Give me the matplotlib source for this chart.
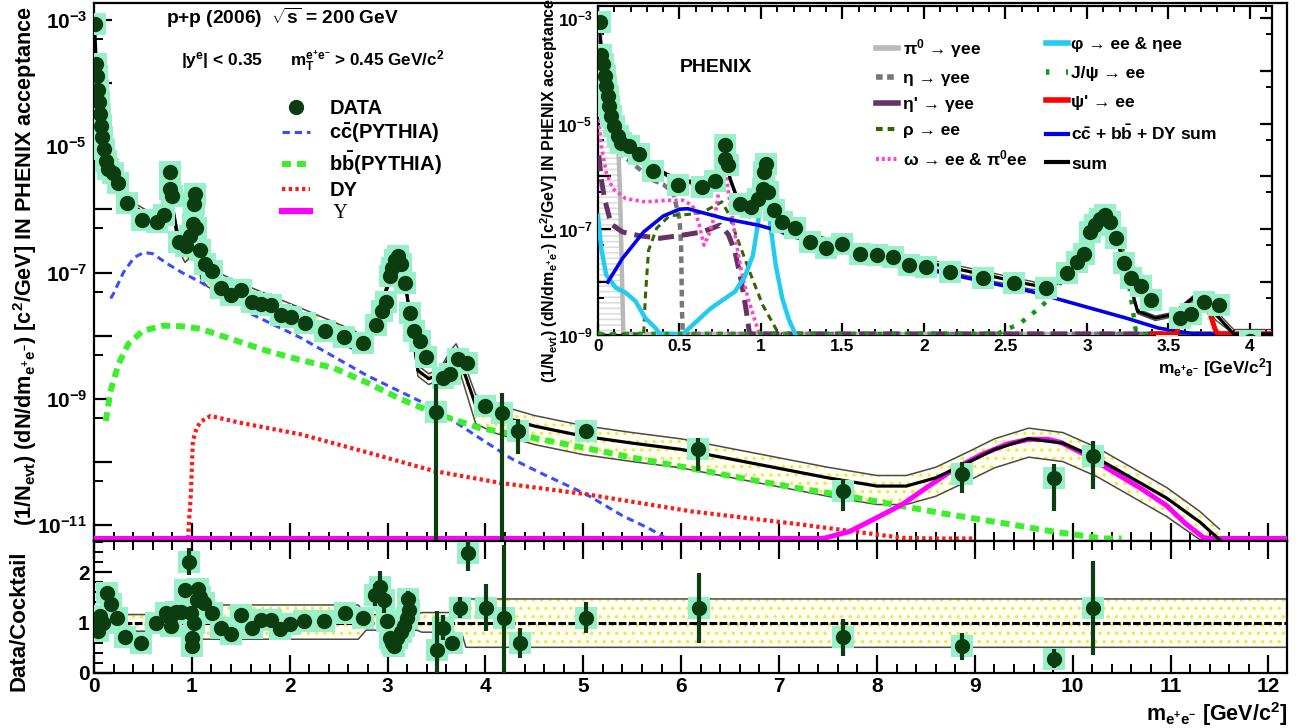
import numpy as np
import matplotlib
matplotlib.use("Agg")
import matplotlib.pyplot as plt
from matplotlib.ticker import FixedLocator, MultipleLocator, FuncFormatter, NullFormatter
from matplotlib.lines import Line2D

plt.rcParams['font.family'] = ['Liberation Sans', 'DejaVu Sans']
plt.rcParams['font.weight'] = 'bold'
plt.rcParams['mathtext.fontset'] = 'custom'
plt.rcParams['mathtext.rm'] = 'Liberation Sans:bold'
plt.rcParams['mathtext.it'] = 'Liberation Sans:bold:italic'
plt.rcParams['mathtext.bf'] = 'Liberation Sans:bold'
plt.rcParams['mathtext.sf'] = 'Liberation Sans:bold'
plt.rcParams['hatch.linewidth'] = 1.2

# ---------------- data (values as log10 exponents; -30 means zero) ----------------
data_mass = [0.014, 0.02, 0.03, 0.04, 0.05, 0.06, 0.07, 0.08, 0.10, 0.12,
             0.14, 0.19, 0.25, 0.34, 0.49, 0.64, 0.72, 0.78, 0.78, 0.80,
             0.87, 0.94, 0.98, 1.01, 1.02, 1.03, 1.04, 1.08, 1.13, 1.21,
             1.30, 1.40, 1.50, 1.61, 1.71, 1.81, 1.91, 2.01, 2.16, 2.36,
             2.55, 2.75, 2.88, 2.94, 2.98, 3.02, 3.05, 3.08, 3.11, 3.14,
             3.18, 3.23, 3.27, 3.33, 3.39, 3.49, 3.57, 3.64, 3.72, 3.81,
             4.0, 4.17, 4.33, 5.03, 6.17, 7.65, 8.87, 9.81, 10.21]
data_exp = [-3.07, -3.70, -3.88, -4.10, -4.29, -4.48, -4.67, -4.85, -5.04, -5.23,
            -5.36, -5.42, -5.58, -5.89, -6.17, -6.20, -6.08, -5.67, -5.40, -5.79,
            -6.52, -6.58, -6.42, -6.23, -5.92, -5.76, -6.30, -6.64, -6.86, -6.98,
            -7.24, -7.36, -7.27, -7.46, -7.49, -7.52, -7.67, -7.71, -7.80, -7.92,
            -8.02, -8.11, -7.83, -7.61, -7.46, -7.05, -6.92, -6.80, -6.73, -6.86,
            -7.17, -7.64, -7.92, -8.08, -8.33, -9.2, -8.67, -8.6, -8.37, -8.43,
            -9.11, -9.22, -9.51, -9.51, -9.79, -10.46, -10.19, -10.25, -9.90]

errbar_mass = [3.49, 4.17, 4.33, 5.03, 6.17, 7.65, 8.87, 9.81, 10.21]
errbar_hi_exp = [-8.76, -8.9, -9.32, -9.43, -9.62, -10.27, -10.0, -10.03, -9.67]
errbar_lo_exp = [-30, -30, -9.87, -9.62, -10.14, -10.78, -10.49, -10.78, -10.43]

cc_mass = [0.17, 0.2, 0.3, 0.41, 0.51, 0.6, 0.75, 0.9, 1.09, 1.6,
           2.11, 2.79, 3.47, 3.94, 4.27, 4.6, 5.03, 5.4, 5.67, 5.85]
cc_exp = [-7.41, -7.33, -7.0, -6.76, -6.68, -6.7, -6.86, -7.0, -7.15, -7.65,
          -8.03, -8.63, -9.14, -9.62, -9.95, -10.2, -10.51, -10.85, -11.05, -11.3]

bb_mass = [0.12, 0.17, 0.25, 0.35, 0.5, 0.71, 0.9, 1.09, 1.4, 1.77,
           2.1, 2.45, 2.8, 3.13, 3.47, 3.94, 4.5, 5.03, 5.5, 6.1,
           6.6, 7.18, 7.7, 8.16, 8.7, 9.34, 9.8, 10.3, 10.5]
bb_exp = [-9.35, -8.87, -8.45, -8.13, -7.92, -7.84, -7.85, -7.89, -8.05, -8.24,
          -8.38, -8.51, -8.75, -9.0, -9.22, -9.46, -9.62, -9.78, -9.93, -10.1,
          -10.25, -10.41, -10.54, -10.67, -10.82, -10.98, -11.1, -11.25, -11.3]

dy_mass = [0.96, 0.99, 1.01, 1.05, 1.1, 1.19, 1.5, 2.11, 2.8, 3.47,
           4.15, 5.03, 6.1, 7.18, 8.26, 8.6, 9.0]
dy_exp = [-11.3, -10.5, -9.67, -9.45, -9.35, -9.27, -9.38, -9.56, -9.85, -10.14,
          -10.33, -10.51, -10.78, -10.98, -11.2, -11.25, -11.3]

ups_mass = [0, 7.35, 7.45, 7.72, 8.0, 8.26, 8.53, 8.8, 9.07, 9.34, 9.55,
            9.75, 9.88, 10.15, 10.42, 10.7, 10.96, 11.15, 11.34, 11.45, 12.2]
ups_exp = [-30, -30, -11.25, -11.1, -10.88, -10.67, -10.38, -10.1, -9.88, -9.71, -9.64,
           -9.64, -9.69, -9.9, -10.16, -10.42, -10.69, -10.97, -11.2, -30, -30]

sum_mass = [0.006, 0.03, 0.06, 0.09, 0.14, 0.26, 0.43, 0.64,
            0.69, 0.75, 0.78, 0.81, 0.87, 0.93, 0.97, 1.0, 1.02, 1.04,
            1.09, 1.16, 1.5, 2.08, 2.66,
            2.78, 2.89, 2.98, 3.1, 3.18, 3.26,
            3.31, 3.42, 3.53, 3.65, 3.7, 3.79,
            3.9, 4.1, 4.5, 5.0, 5.5, 6.0, 6.5, 7.0, 7.5, 8.0, 8.3, 8.6, 8.9, 9.2,
            9.55, 9.9, 10.25, 10.6, 10.96, 11.3, 11.5]
sum_exp = [-3.1, -3.91, -4.54, -5.04, -5.42, -5.67, -5.98, -6.17,
           -6.23, -5.92, -5.42, -6.04, -6.55, -6.73, -6.67, -6.3, -5.73, -6.3,
           -6.92, -7.05, -7.3, -7.67, -8.05,
           -8.11, -7.8, -7.3, -6.73, -7.17, -7.99,
           -8.55, -8.68, -8.61, -8.3, -8.24, -8.61,
           -9.1, -9.25, -9.43, -9.59, -9.7, -9.8, -9.95, -10.1, -10.25, -10.38, -10.38, -10.25, -10.03, -9.8,
           -9.63, -9.7, -9.94, -10.25, -10.57, -10.95, -11.3]
sum_sys_up = [1.16] * 8 + [1.25] * 10 + [1.35] * 5 + [1.16] * 6 + [1.2] * 4 + [1.3, 1.4] + [1.47] * 21
sum_sys_lo = [0.84] * 8 + [0.78] * 10 + [0.67] * 5 + [0.85] * 6 + [0.81] * 4 + [0.72, 0.6] + [0.51] * 21

# inset cocktail components
pi0_mass = [0.003, 0.02, 0.05, 0.08, 0.11, 0.125, 0.135, 0.145, 0.155, 0.16, 4.2]
pi0_exp = [-2.95, -3.6, -4.3, -4.8, -5.2, -5.45, -6.3, -7.6, -8.9, -30, -30]
eta_mass = [0.003, 0.03, 0.07, 0.15, 0.25, 0.32, 0.4, 0.46, 0.5, 0.51, 0.515, 0.52, 4.2]
eta_exp = [-4.35, -4.8, -5.29, -5.6, -5.85, -6.05, -6.15, -6.3, -6.8, -7.3, -8.5, -30, -30]
etap_mass = [0.005, 0.02, 0.04, 0.08, 0.15, 0.25, 0.38, 0.52, 0.64, 0.75, 0.8, 0.84, 0.88, 0.91, 0.93, 4.2]
etap_exp = [-5.6, -6.05, -6.42, -6.9, -7.05, -7.12, -7.17, -7.11, -7.05, -6.92, -7.1, -7.42, -7.99, -8.55, -30, -30]
rho_mass = [0.0, 0.27, 0.28, 0.29, 0.31, 0.36, 0.44, 0.55, 0.64, 0.72, 0.76, 0.8, 0.84, 0.93, 1.01, 1.1, 1.13]
rho_exp = [-30, -30, -9.0, -8.3, -7.4, -6.98, -6.74, -6.72, -6.68, -6.55, -6.48, -6.7, -7.05, -7.8, -8.43, -8.93, -30]
omega_mass = [0.005, 0.02, 0.05, 0.09, 0.17, 0.29, 0.44, 0.52, 0.58, 0.62, 0.65, 0.68,
              0.72, 0.75, 0.78, 0.8, 0.84, 0.88, 0.92, 0.96, 0.99]
omega_exp = [-4.92, -5.42, -5.92, -6.23, -6.42, -6.48, -6.45, -6.45, -6.55, -6.9, -7.3, -7.1,
             -6.7, -6.1, -5.6, -6.3, -7.1, -7.8, -8.3, -8.7, -9.0]
phi_mass = [0.0, 0.02, 0.05, 0.11, 0.17, 0.23, 0.29, 0.35, 0.38, 0.52,
            0.56, 0.62, 0.69, 0.76, 0.84, 0.9, 0.95, 0.98, 1.0, 1.02,
            1.04, 1.06, 1.09, 1.13, 1.17, 1.21]
phi_exp = [-6.74, -7.36, -7.86, -8.11, -8.2, -8.36, -8.68, -8.86, -9.0, -9.0,
           -8.87, -8.7, -8.5, -8.35, -8.18, -7.9, -7.5, -6.92, -6.4, -6.0,
           -6.4, -6.98, -7.67, -8.3, -8.7, -9.0]
jpsi_mass = [0.0, 2.45, 2.5, 2.58, 2.66, 2.74, 2.81, 2.89, 2.98, 3.05, 3.1, 3.15, 3.2, 3.24, 3.27, 3.3, 3.32, 4.2]
jpsi_exp = [-30, -30, -8.9, -8.8, -8.61, -8.4, -8.18, -7.67, -7.17, -6.85, -6.75, -6.9, -7.17, -7.67, -8.3, -8.93, -30, -30]
psip_mass = [3.4, 3.55, 3.57, 3.6, 3.65, 3.7, 3.75, 3.79, 3.81, 4.2]
psip_exp = [-30, -30, -8.68, -8.5, -8.43, -8.4, -8.55, -8.93, -30, -30]
hf_mass = [0.06, 0.15, 0.28, 0.4, 0.5, 0.55, 0.78, 0.98, 1.5, 2.08, 2.66, 2.95, 3.24, 3.44, 3.62, 3.7, 4.2]
hf_exp = [-8.0, -7.55, -7.05, -6.75, -6.62, -6.61, -6.8, -6.92, -7.36, -7.8, -8.18, -8.43, -8.68, -8.87, -8.96, -30, -30]

# ratio panel
ratio_mass = [0.0, 0.02, 0.04, 0.06, 0.09, 0.13, 0.17, 0.24, 0.32, 0.48,
              0.63, 0.74, 0.78, 0.79, 0.84, 0.89, 0.93, 0.97, 0.99, 1.0,
              1.0, 1.02, 1.05, 1.06, 1.08, 1.12, 1.21, 1.30, 1.40, 1.50,
              1.61, 1.71, 1.81, 1.90, 2.0, 2.15, 2.35, 2.56, 2.75, 2.87,
              2.92, 2.96, 2.99, 3.02, 3.04, 3.07, 3.10, 3.14, 3.17, 3.20,
              3.22, 3.21, 3.50, 3.57, 3.66, 3.74, 3.82, 4.01, 4.19, 4.35,
              5.03, 6.18, 7.65, 8.87, 9.81, 10.21]
ratio_val = [1.03, 0.94, 0.84, 1.13, 1.0, 1.58, 1.36, 1.10, 0.72, 0.59,
             1.0, 1.19, 1.10, 0.94, 1.22, 1.22, 1.64, 2.21, 1.19, 0.69,
             0.53, 1.0, 1.45, 1.67, 1.51, 1.38, 1.19, 0.9, 0.78, 1.16,
             0.9, 1.06, 1.06, 0.88, 0.97, 1.03, 1.03, 1.19, 1.10, 1.55,
             1.71, 1.45, 1.03, 0.69, 0.59, 0.53, 0.69, 0.81, 0.94, 1.10,
             1.25, 1.47, 0.46, 0.9, 0.59, 1.3, 2.38, 1.3, 1.10, 0.59,
             1.10, 1.29, 0.71, 0.53, 0.28, 1.29]
ratio_err = [0.05, 0.05, 0.05, 0.05, 0.05, 0.06, 0.06, 0.05, 0.05, 0.05,
             0.05, 0.05, 0.05, 0.05, 0.05, 0.05, 0.08, 0.27, 0.08, 0.08,
             0.08, 0.08, 0.08, 0.1, 0.08, 0.06, 0.06, 0.06, 0.06, 0.06,
             0.06, 0.06, 0.06, 0.06, 0.06, 0.06, 0.06, 0.1, 0.1, 0.22,
             0.32, 0.25, 0.08, 0.06, 0.06, 0.06, 0.06, 0.06, 0.06, 0.1,
             0.12, 0.15, 0.77, 0.25, 0.12, 0.2, 0.35, 0.47, 1.45, 0.3,
             0.3, 0.7, 0.37, 0.27, 0.19, 0.93]
sys_mass = [0, 0.6, 0.7, 1.05, 1.12, 2.7, 2.78, 3.3, 3.35, 3.68, 3.72, 3.76, 3.8, 12.2]
sys_up = [1.16, 1.16, 1.25, 1.25, 1.35, 1.35, 1.16, 1.16, 1.2, 1.2, 1.3, 1.25, 1.47, 1.47]
sys_lo = [0.83, 0.83, 0.78, 0.78, 0.67, 0.67, 0.85, 0.85, 0.81, 0.81, 0.72, 0.78, 0.51, 0.51]

# ---------------- styles ----------------
DGREEN = '#0c3d10'
MINT = '#98f0c8'
BLUE_CC = '#3a4cff'
GREEN_BB = '#3cee2c'
RED_DY = '#ff1a1a'
MAG = '#ff00ff'
BANDLINE = '#4a4a4a'

W, H = 1312, 728
fig = plt.figure(figsize=(W / 100, H / 100), dpi=100)


def ax_px(l, t, r, b):
    return fig.add_axes([l / W, 1 - b / H, (r - l) / W, (b - t) / H])


ax = ax_px(94, 3, 1287, 541)
axr = ax_px(94, 541, 1287, 673)
axi = ax_px(598, 6, 1272, 335)
axi.set_zorder(5)

MAIN_LO, MAIN_HI = 10 ** -11.25, 10 ** -2.73
INS_LO, INS_HI = 1e-9, 10 ** -2.775


def val(e, floor):
    return np.maximum(np.power(10.0, np.array(e, dtype=float)), floor)


def logfmt(v, pos):
    k = int(round(np.log10(v)))
    return r"$10^{%d}$" % k if k % 2 != 0 else ""


def style_log_axis(a, kmin, kmax, size, majlen, minlen, pad):
    a.set_yscale('log')
    a.yaxis.set_major_locator(FixedLocator([10.0 ** k for k in range(kmin, kmax + 1)]))
    a.yaxis.set_minor_locator(FixedLocator([5 * 10.0 ** k for k in range(kmin - 1, kmax + 1)]))
    a.yaxis.set_major_formatter(FuncFormatter(logfmt))
    a.yaxis.set_minor_formatter(NullFormatter())
    a.tick_params(axis='y', which='major', length=majlen, width=1.6, labelsize=size, pad=pad)
    a.tick_params(axis='y', which='minor', length=minlen, width=1.4)


for a in (ax, axr, axi):
    a.tick_params(which='both', direction='in')
    for s in a.spines.values():
        s.set_linewidth(1.6)

# ---------------- main panel ----------------
sm = np.array(sum_mass)
sv = val(sum_exp, MAIN_LO * 1.05)
su = sv * np.array(sum_sys_up)
sl = np.maximum(sv * np.array(sum_sys_lo), MAIN_LO * 1.05)
ax.fill_between(sm, sl, su, facecolor='#fffff2', edgecolor='#f2e64a', hatch='..', lw=0, zorder=1)
ax.plot(sm, su, color=BANDLINE, lw=1.1, zorder=2)
ax.plot(sm, sl, color=BANDLINE, lw=1.1, zorder=2)

floor_m = MAIN_LO * 10 ** 0.04
ax.plot(cc_mass, val(cc_exp, floor_m), color=BLUE_CC, lw=2.2, ls=(0, (2.4, 1.6)), zorder=3)
ax.plot(bb_mass, val(bb_exp, floor_m), color=GREEN_BB, lw=4.3, ls=(0, (1.5, 1.0)), zorder=3)
ax.plot(dy_mass, val(dy_exp, floor_m), color=RED_DY, lw=3.0, ls=(0, (0.8, 0.8)), zorder=3)
ax.plot(ups_mass, val(ups_exp, floor_m), color=MAG, lw=3.6, zorder=3)
ax.plot(sm, sv, color='black', lw=2.3, zorder=4)

dm = np.array(data_mass)
dv = val(data_exp, 0)
ax.scatter(dm, dv, marker='s', s=230, color=MINT, lw=0, zorder=4.5)
ax.vlines(errbar_mass, val(errbar_lo_exp, MAIN_LO), val(errbar_hi_exp, MAIN_LO), color=DGREEN, lw=3, zorder=5)
ax.plot(dm, dv, 'o', color=DGREEN, ms=10, zorder=6)

ax.set_xlim(0, 12.19)
ax.set_ylim(MAIN_LO, MAIN_HI)
style_log_axis(ax, -11, -3, 15, 13, 6.5, 5)
ax.xaxis.set_major_locator(MultipleLocator(1))
ax.xaxis.set_minor_locator(MultipleLocator(0.2))
ax.tick_params(axis='x', which='major', length=13, width=1.6, labelbottom=False)
ax.tick_params(axis='x', which='minor', length=6.5, width=1.4)

# ---------------- ratio panel ----------------
rs = np.array(sys_mass)
axr.fill_between(rs, sys_lo, sys_up, facecolor='#fffff2', edgecolor='#f2e64a', hatch='..', lw=0, zorder=1)
axr.plot(rs, sys_up, color=BANDLINE, lw=1.1, zorder=2)
axr.plot(rs, sys_lo, color=BANDLINE, lw=1.1, zorder=2)
axr.axhline(1, color='black', lw=2.2, ls=(0, (2.5, 0.8)), zorder=3)
axr.scatter(ratio_mass, ratio_val, marker='s', s=230, color=MINT, lw=0, zorder=4)
axr.errorbar(ratio_mass, ratio_val, yerr=ratio_err, fmt='o', color=DGREEN, ms=10,
             elinewidth=3, capsize=0, zorder=5)
axr.set_xlim(0, 12.19)
axr.set_ylim(0, 2.62)
axr.xaxis.set_major_locator(MultipleLocator(1))
axr.xaxis.set_minor_locator(MultipleLocator(0.2))
axr.yaxis.set_major_locator(FixedLocator([0, 1, 2]))
axr.yaxis.set_minor_locator(MultipleLocator(0.2))
axr.tick_params(which='both', top=True)
axr.tick_params(which='major', length=13, width=1.6, labelsize=15, pad=3)
axr.tick_params(which='minor', length=6.5, width=1.4)
axr.xaxis.set_major_formatter(FuncFormatter(lambda v, p: "%d" % round(v)))

# ---------------- inset ----------------
floor_i = INS_LO * 10 ** 0.02
axi.fill_between(pi0_mass[:9], INS_LO, val(pi0_exp[:9], floor_i), facecolor='none',
                 edgecolor='#dddddd', hatch='---', lw=0, zorder=1)
isu = np.maximum(val(sum_exp, floor_i) * np.array(sum_sys_up) ** 0.5, floor_i)
isl = np.maximum(val(sum_exp, floor_i) * np.array(sum_sys_lo) ** 0.5, floor_i)
axi.fill_between(sm, isl, isu, facecolor='#fffff2', edgecolor='#f2e64a', hatch='..', lw=0, zorder=1)
axi.plot(sm, isu, color=BANDLINE, lw=1.0, zorder=2)
axi.plot(sm, isl, color=BANDLINE, lw=1.0, zorder=2)

comp = [
    (pi0_mass, pi0_exp, dict(color='#b9b9b9', lw=3.2)),
    (eta_mass, eta_exp, dict(color='#777777', lw=3.2, ls=(0, (1.5, 1.0)))),
    (etap_mass, etap_exp, dict(color='#663366', lw=3.6, ls=(0, (3.2, 1.6)))),
    (rho_mass, rho_exp, dict(color='#336600', lw=2.2, ls=(0, (2.2, 1.6)))),
    (omega_mass, omega_exp, dict(color='#ff44cc', lw=2.6, ls=(0, (0.9, 0.9)))),
    (phi_mass, phi_exp, dict(color='#22ccee', lw=3.2)),
    (jpsi_mass, jpsi_exp, dict(color='#119911', lw=3.2, ls=(0, (1.0, 2.0)))),
    (hf_mass, hf_exp, dict(color='#0000ee', lw=2.6)),
    (psip_mass, psip_exp, dict(color='#ff0000', lw=3.6)),
]
for xm, ye, st in comp:
    axi.plot(xm, val(ye, floor_i), zorder=3, **st)
axi.plot(sm, val(sum_exp, floor_i), color='black', lw=2.3, zorder=4)
axi.scatter(dm, dv, marker='s', s=230, color=MINT, lw=0, zorder=4.5)
axi.plot(dm, dv, 'o', color=DGREEN, ms=10, zorder=6)

axi.set_xlim(0, 4.135)
axi.set_ylim(INS_LO, INS_HI)
style_log_axis(axi, -9, -3, 12.5, 9, 4.5, 4)
axi.xaxis.set_major_locator(MultipleLocator(0.5))
axi.xaxis.set_minor_locator(MultipleLocator(0.1))
axi.xaxis.set_major_formatter(FuncFormatter(lambda v, p: "%g" % v))
axi.tick_params(which='both', top=True, right=True)
axi.tick_params(axis='x', which='major', length=9, width=1.6, labelsize=12.5, pad=3)
axi.tick_params(axis='x', which='minor', length=4.5, width=1.4)

# ---------------- legends ----------------
main_handles = [
    Line2D([], [], marker='o', color=DGREEN, ls='none', ms=10),
    Line2D([], [], color=BLUE_CC, lw=2.2, ls=(0, (2.4, 1.6))),
    Line2D([], [], color=GREEN_BB, lw=4.3, ls=(0, (1.5, 1.0))),
    Line2D([], [], color=RED_DY, lw=3.0, ls=(0, (0.8, 0.8))),
    Line2D([], [], color=MAG, lw=4.5),
]
main_labels = ["DATA", r"c$\bar{\rm c}$(PYTHIA)", r"b$\bar{\rm b}$(PYTHIA)", "DY", " Υ"]
leg = fig.legend(main_handles, main_labels, loc='upper left', bbox_to_anchor=(282 / W, 1 - 99 / H),
                 frameon=False, fontsize=14.5, handlelength=1.4, handletextpad=0.95,
                 labelspacing=0.2, borderpad=0, borderaxespad=0)
leg.get_texts()[4].set_fontfamily('Liberation Serif')
leg.get_texts()[4].set_fontweight('normal')

lh = [
    Line2D([], [], color='#b9b9b9', lw=4),
    Line2D([], [], color='#777777', lw=4, ls=(0, (1.2, 0.8))),
    Line2D([], [], color='#663366', lw=4),
    Line2D([], [], color='#336600', lw=3, ls=(0, (1.6, 1.2))),
    Line2D([], [], color='#ff44cc', lw=3, ls=(0, (0.7, 0.7))),
]
ll = ["π$^{0}$ → γee", "η → γee", "η' → γee", "ρ → ee", "ω → ee & π$^{0}$ee"]
rh = [
    Line2D([], [], color='#22ccee', lw=4),
    Line2D([], [], color='#119911', lw=4, ls=(0, (0.6, 3))),
    Line2D([], [], color='#ff0000', lw=4),
    Line2D([], [], color='#0000ee', lw=3),
    Line2D([], [], color='black', lw=3),
]
rl = ["φ → ee & ηee", "J/ψ → ee", "ψ' → ee", r"c$\bar{\rm c}$ + b$\bar{\rm b}$ + DY sum", "sum"]
leg1 = axi.legend(lh, ll, loc='upper left', bbox_to_anchor=(876 / W, 1 - 37 / H),
                  bbox_transform=fig.transFigure, frameon=False, fontsize=12.5,
                  handlelength=1.25, handletextpad=0.3, labelspacing=0.62, borderpad=0, borderaxespad=0)
axi.add_artist(leg1)
axi.legend(rh, rl, loc='upper left', bbox_to_anchor=(1046 / W, 1 - 37 / H),
           bbox_transform=fig.transFigure, frameon=False, fontsize=12.5,
           handlelength=1.25, handletextpad=0.2, labelspacing=0.78, borderpad=0, borderaxespad=0)

# ---------------- texts ----------------
def ftext(x, y, s, **kw):
    return fig.text(x / W, 1 - y / H, s, **kw)


ftext(166, 18, r"p+p (2006)  $\sqrt{\rm s}$ = 200 GeV", fontsize=13.8, va='center', ha='left')
ftext(181, 61, r"|y$^{\rm e}$| < 0.35", fontsize=12.5, va='center', ha='left')
ftext(290, 61, r"m$_{\rm T}^{\rm e^{+}e^{-}}$ > 0.45 GeV/c$^{2}$", fontsize=12.3, va='center', ha='left')
ftext(680, 68, "PHENIX", fontsize=14, va='center', ha='left', zorder=10)

ylab = r"(1/N$_{\rm evt}$) (dN/dm$_{\rm e^{+}e^{-}}$) [c$^{2}$/GeV] IN PHENIX acceptance"
ftext(25, 266, ylab, fontsize=15.6, rotation=90, va='center', ha='center')
ftext(19, 621, "Data/Cocktail", fontsize=16, rotation=90, va='center', ha='center')
ftext(549, 190, ylab, fontsize=11.5, rotation=90, va='center', ha='center', zorder=10)
ftext(1287, 714, r"m$_{\rm e^{+}e^{-}}$ [GeV/c$^{2}$]", fontsize=15.5, va='center', ha='right')
ftext(1272, 368, r"m$_{\rm e^{+}e^{-}}$ [GeV/c$^{2}$]", fontsize=12.5, va='center', ha='right', zorder=10)

fig.savefig("out.png", dpi=100)
